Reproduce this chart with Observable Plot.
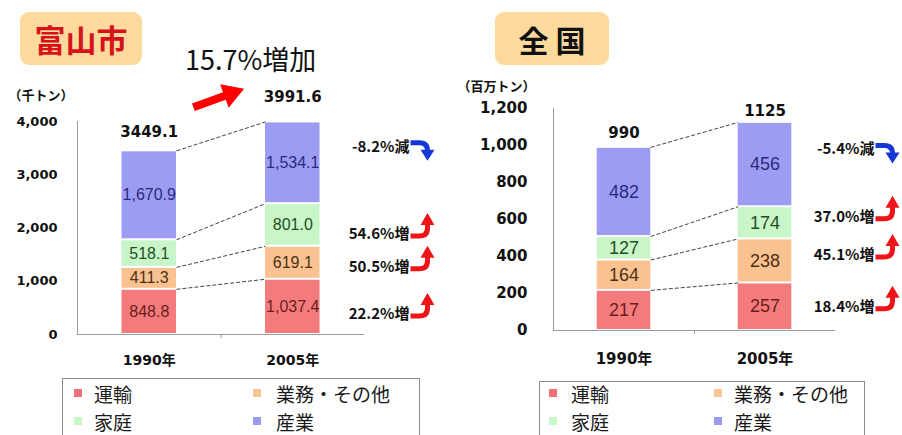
<!DOCTYPE html>
<html>
<head>
<meta charset="utf-8">
<script src="https://cdn.jsdelivr.net/npm/d3@7"></script>
<script src="https://cdn.jsdelivr.net/npm/@observablehq/plot@0.6"></script>
<style>
  body { margin: 0; background: #fff; font-family: "Noto Sans CJK JP", sans-serif; }
  #wrap { position: relative; width: 902px; height: 435px; overflow: hidden; background: #fff; }
  .panel { position: absolute; top: 0; height: 435px; }
  .head { position: relative; height: 72px; }
  .tbox { position: absolute; top: 12px; height: 53px; background: #fcd99c; border-radius: 9px;
          display: flex; align-items: center; justify-content: center; font-weight: 700; line-height: 1; }
  .legend { position: absolute; border: 1px solid #8c8c8c; border-bottom: none; height: 80px; background: #fff; }
  .sq { position: absolute; width: 8px; height: 8px; }
  .lt { position: absolute; line-height: 1; color: #1a1a1a; white-space: nowrap; }
  svg { display: block; }
</style>
</head>
<body>
<div id="wrap">
  <div class="panel" id="pl" style="left:0;width:450px">
    <div class="head">
      <div class="tbox" id="t0" style="left:20px;width:122px;color:#d6121b;font-size:31px"></div>
      <div id="incr" style="position:absolute;left:185px;top:45px;font-size:27px;line-height:1;color:#111;white-space:nowrap"></div>
    </div>
    <div id="cl"></div>
  </div>
  <div class="panel" id="pr" style="left:450px;width:452px">
    <div class="head">
      <div class="tbox" id="t1" style="left:45px;width:114px;color:#111;font-size:30px"></div>
    </div>
    <div id="cr"></div>
  </div>
</div>
<script>
// ---- data ----
const panelTitles = ["富山市", "全 国"];
const units = ["（千トン）", "（百万トン）"];
const categories = ["運輸", "業務・その他", "家庭", "産業"];
const years = ["1990年", "2005年"];
const toyama1990 = [848.8, 411.3, 518.1, 1670.9];
const toyama2005 = [1037.4, 619.1, 801.0, 1534.1];
const japan1990 = [217, 164, 127, 482];
const japan2005 = [257, 238, 174, 456];
const toyamaTicks = [0, 1000, 2000, 3000, 4000];
const japanTicks = [0, 200, 400, 600, 800, 1000, 1200];

// ---- styles ----
const colors = ["#f47b7b", "#fac291", "#c9f6c9", "#9c9cf3"];
const labelColors = ["#6a1e1e", "#4d3014", "#1f4f1f", "#2b2b7c"];
const legendColors = ["#f0707c", "#fbc494", "#c8f7c8", "#9a9af0"];
const bw = 0.19;

function stackYear(vals, xi) {
  let c = 0;
  return vals.map((v, k) => { const r = {xi, k, v, y1: c, y2: c + v}; c += v; return r; });
}

const upLine = {draw(c) { c.moveTo(0, 2); c.lineTo(9, 2); c.quadraticCurveTo(17, 2, 17, -6); c.lineTo(17, -10); }};
const upHead = {draw(c) { c.moveTo(10, -9); c.lineTo(24, -9); c.lineTo(17, -21); c.closePath(); }};
const downLine = {draw(c) { c.moveTo(0, -4); c.lineTo(9, -4); c.quadraticCurveTo(17, -4, 17, 4); }};
const downHead = {draw(c) { c.moveTo(10, 3); c.lineTo(24, 3); c.lineTo(17, 14); c.closePath(); }};
const bigArrow = {draw(c, l) {
  const h = 21, hw = 12.5, sw = 4;
  c.moveTo(-sw, 0); c.lineTo(-sw, -(l - h)); c.lineTo(-hw, -(l - h)); c.lineTo(0, -l);
  c.lineTo(hw, -(l - h)); c.lineTo(sw, -(l - h)); c.lineTo(sw, 0); c.closePath();
}};

function makePanel(p) {
  const s0 = stackYear(p.v1990, 0), s1 = stackYear(p.v2005, 1);
  const segs = s0.concat(s1);
  const links = categories.map((c, k) => ({y1: s0[k].y2, y2: s1[k].y2}));
  const totals = [{xi: 0, t: d3.sum(p.v1990)}, {xi: 1, t: d3.sum(p.v2005)}];
  const changes = categories.map((c, k) => ({k, y: (s1[k].y1 + s1[k].y2) / 2, pct: (p.v2005[k] / p.v1990[k] - 1) * 100}));
  const fmtPct = d => (d.pct < 0 ? "-" : "") + d3.format(".1f")(Math.abs(d.pct)) + "%" + (d.pct < 0 ? "減" : "増");

  const marks = [
    Plot.ruleY([0], {stroke: "#9a9a9a"}),
    Plot.ruleX([-0.5], {y1: 0, y2: p.yMax, stroke: "#9a9a9a"}),
    Plot.axisX({ticks: [0.5], tickFormat: () => "", tickSize: 4, stroke: "#9a9a9a", label: null}),
    Plot.axisY({ticks: p.ticks, tickFormat: d3.format(","), tickSize: 0, tickPadding: p.tickPadding, fontSize: p.tickFont, fontWeight: "bold", fill: "#111", label: null}),
    Plot.axisX({ticks: [0, 1], tickFormat: i => years[i], tickSize: 0, tickPadding: p.xPad, fontSize: p.xFont, fontWeight: "bold", fill: "#111", label: null}),
    Plot.link(links, {x1: bw, x2: 1 - bw, y1: "y1", y2: "y2", stroke: "#444", strokeWidth: 1, strokeDasharray: "4,2"}),
    Plot.rectY(segs, {x1: d => d.xi - bw, x2: d => d.xi + bw, y1: "y1", y2: "y2", fill: d => colors[d.k], insetTop: 1, insetBottom: 1}),
    Plot.text(segs, {x: "xi", y: d => (d.y1 + d.y2) / 2, text: d => p.fmtSeg(d.v), fill: d => labelColors[d.k], fontSize: p.segFont, fontFamily: "Liberation Sans"}),
    ...totals.map((d, i) => Plot.text([d], {x: "xi", y: "t", text: d => p.fmtTotal(d.t), dy: p.totalDy[i], fontSize: p.totalFont, fontWeight: "bold", fill: "#111"})),
    ...changes.map((d, k) => Plot.text([d], {x: 1.5, y: "y", text: fmtPct, textAnchor: "end", dx: p.annDx, dy: p.annDy[k],
      fontFamily: "Noto Sans CJK JP", fontWeight: "bold", fontSize: p.annFont, fill: "#111"})),
    ...changes.map((d, k) => Plot.vector([d], {x: 1.5, y: "y", length: 10, anchor: "start", shape: d.pct < 0 ? downLine : upLine,
      stroke: d.pct < 0 ? "#1638d8" : "#ee1418", strokeWidth: 5, strokeLinecap: "butt", fill: "none", dx: p.annDx + 1, dy: p.annDy[k]})),
    ...changes.map((d, k) => Plot.vector([d], {x: 1.5, y: "y", length: 10, anchor: "start", shape: d.pct < 0 ? downHead : upHead,
      fill: d.pct < 0 ? "#1638d8" : "#ee1418", stroke: "none", dx: p.annDx + 1, dy: p.annDy[k]})),
    Plot.text([p.unit], {frameAnchor: "top-left", text: d => d, textAnchor: "start", dx: p.unitDx, dy: p.unitDy,
      fontWeight: "bold", fontSize: 13, fontFamily: "Noto Sans CJK JP", fill: "#111"})
  ];
  if (p.bigArrow) {
    marks.push(Plot.vector([totals[1]], {x: "xi", y: "t", length: 54, rotate: 70, anchor: "middle", shape: bigArrow,
      fill: "#ff0000", stroke: "none", dx: -74, dy: -24}));
  }
  return Plot.plot({
    width: p.width, height: p.height,
    marginLeft: p.ml, marginRight: p.mr, marginTop: p.mt, marginBottom: p.mb,
    x: {domain: [-0.5, 1.5]},
    y: {domain: [0, p.yMax]},
    color: {type: "identity"},
    style: {fontFamily: "'DejaVu Sans', 'Noto Sans CJK JP', sans-serif", background: "transparent", overflow: "visible"},
    marks
  });
}

function makeLegend(cfg) {
  const box = document.createElement("div");
  box.className = "legend";
  box.style.left = cfg.left + "px"; box.style.top = cfg.top + "px"; box.style.width = cfg.width + "px";
  categories.forEach((c, k) => {
    const col = k % 2, row = Math.floor(k / 2);
    const cy = cfg.rows[row];
    const sq = document.createElement("div");
    sq.className = "sq";
    sq.style.background = legendColors[k];
    sq.style.left = cfg.sqX[col] + "px"; sq.style.top = (cy - 4) + "px";
    const t = document.createElement("div");
    t.className = "lt";
    t.textContent = c;
    t.style.fontSize = cfg.font + "px";
    t.style.left = cfg.txX[col] + "px"; t.style.top = (cy - cfg.font / 2) + "px";
    box.appendChild(sq); box.appendChild(t);
  });
  return box;
}

document.getElementById("t0").textContent = panelTitles[0];
document.getElementById("t1").textContent = panelTitles[1];
document.getElementById("incr").textContent =
  d3.format(".1f")((d3.sum(toyama2005) / d3.sum(toyama1990) - 1) * 100) + "%増加";

document.getElementById("cl").appendChild(makePanel({
  v1990: toyama1990, v2005: toyama2005, ticks: toyamaTicks, yMax: 4000, unit: units[0],
  width: 450, height: 303, ml: 77, mr: 86, mt: 49, mb: 41,
  fmtSeg: d3.format(",.1f"), fmtTotal: d3.format(".1f"),
  segFont: 16, totalFont: 15, totalDy: [-19, -25],
  tickFont: 13, tickPadding: 20, xPad: 21, xFont: 14,
  annDx: 45, annDy: [7, 4, 9, -16], annFont: 15,
  unitDx: -69, unitDy: -31, bigArrow: true
}));
document.getElementById("cr").appendChild(makePanel({
  v1990: japan1990, v2005: japan2005, ticks: japanTicks, yMax: 1200, unit: units[1],
  width: 452, height: 303, ml: 103, mr: 67, mt: 36, mb: 45,
  fmtSeg: d3.format("d"), fmtTotal: d3.format("d"),
  segFont: 18, totalFont: 15, totalDy: [-14, -11],
  tickFont: 15, tickPadding: 26, xPad: 23, xFont: 15,
  annDx: 39, annDy: [0, -6, -6, -15], annFont: 15,
  unitDx: -96, unitDy: -27, bigArrow: false
}));

document.getElementById("pl").appendChild(makeLegend({left: 62, top: 378, width: 356, rows: [14, 42], sqX: [11, 190], txX: [31, 213], font: 19}));
document.getElementById("pr").appendChild(makeLegend({left: 89, top: 381, width: 324, rows: [11, 39], sqX: [9, 174], txX: [31, 194], font: 19}));
</script>
</body>
</html>
